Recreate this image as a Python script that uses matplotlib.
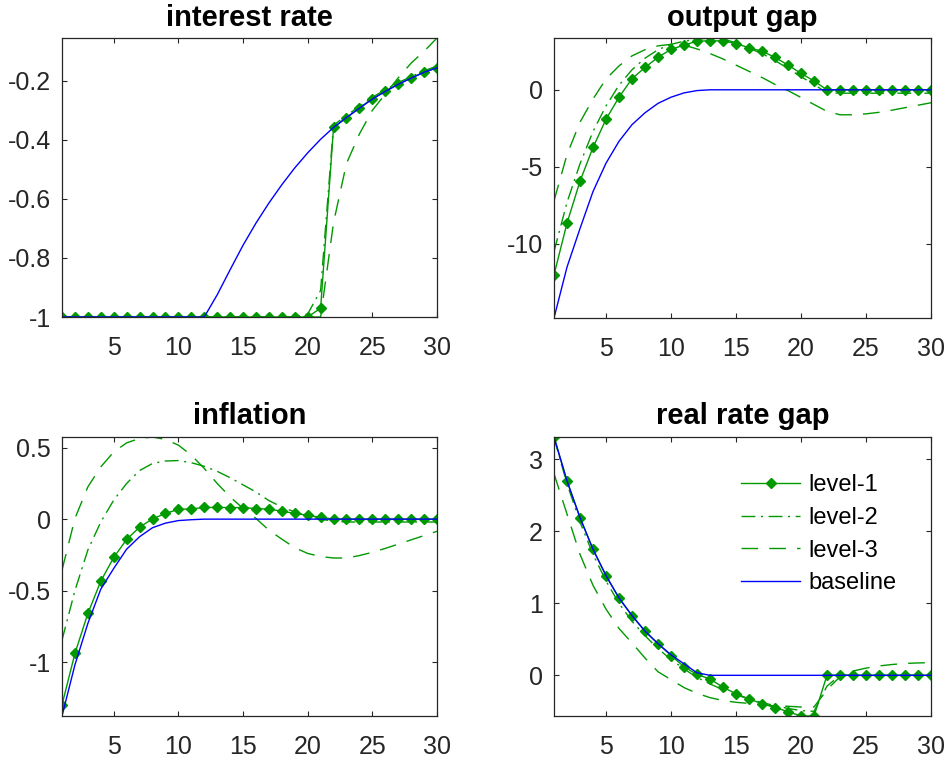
import matplotlib
matplotlib.use("Agg")
import matplotlib.pyplot as plt
import numpy as np

plt.rcParams['font.family'] = ['Liberation Sans', 'DejaVu Sans']
plt.rcParams['axes.unicode_minus'] = False

t = list(range(1, 31))

# ---- interest rate ----
base_i = [-1]*12 + [-0.925, -0.84, -0.757, -0.682, -0.614, -0.552, -0.495, -0.444,
                    -0.398, -0.358, -0.324, -0.293, -0.262, -0.236, -0.212, -0.191,
                    -0.171, -0.156]
l1_i = [-1]*20 + [-0.970, -0.358, -0.326, -0.292, -0.260, -0.236, -0.211, -0.191,
                  -0.170, -0.156]
l2_i = [-1]*19 + [-0.99, -0.91, -0.35, -0.318, -0.286, -0.256, -0.230, -0.206,
                  -0.186, -0.166, -0.150]
l3_i = [-1]*21 + [-0.68, -0.48, -0.38, -0.30, -0.245, -0.19, -0.14, -0.10, -0.055]

# ---- output gap ----
base_y = [-14.8, -11.5, -9.0, -6.6, -4.76, -3.34, -2.26, -1.49, -0.88, -0.48,
          -0.2, -0.05] + [0]*18
l1_y = [-12.0, -8.65, -5.93, -3.74, -1.91, -0.48, 0.72, 1.45, 2.11, 2.62, 2.9,
        3.15, 3.18, 3.17, 3.0, 2.73, 2.5, 2.11, 1.6, 1.07, 0.57, 0] + [0]*8
l2_y = [-10.5, -7.3, -4.8, -2.7, -1.05, 0.3, 1.3, 2.05, 2.6, 2.95, 3.15, 3.28,
        3.36, 3.3, 3.05, 2.7, 2.35, 1.9, 1.38, 0.85, 0.35, -0.2] + [-0.22]*8
l3_y = [-7.2, -4.2, -2.1, -0.6, 0.7, 1.55, 2.2, 2.6, 2.85, 2.95, 2.9, 2.65, 2.35,
        2.0, 1.6, 1.2, 0.8, 0.35, -0.05, -0.5, -0.95, -1.4, -1.62, -1.62, -1.56,
        -1.46, -1.32, -1.16, -1.0, -0.84]

# ---- inflation ----
base_p = [-1.378, -1.02, -0.73, -0.49, -0.345, -0.21, -0.123, -0.06, -0.028,
          -0.01, -0.004] + [0]*19
l1_p = [-1.30, -0.94, -0.66, -0.434, -0.268, -0.142, -0.056, 0.002, 0.04, 0.068,
        0.072, 0.082, 0.082, 0.081, 0.081, 0.074, 0.07, 0.056, 0.04, 0.027,
        0.013, 0] + [0]*8
l2_p = [-0.847, -0.5, -0.216, -0.02, 0.133, 0.25, 0.34, 0.39, 0.407, 0.41, 0.395,
        0.37, 0.335, 0.29, 0.24, 0.19, 0.13, 0.085, 0.05, 0.022, 0.0,
        -0.015] + [-0.02]*8
l3_p = [-0.357, 0.005, 0.226, 0.366, 0.47, 0.534, 0.565, 0.575, 0.558, 0.518,
        0.448, 0.355, 0.25, 0.156, 0.075, 0.005, -0.077, -0.14, -0.2, -0.24,
        -0.262, -0.272, -0.272, -0.255, -0.232, -0.205, -0.175, -0.145, -0.115,
        -0.085]

# ---- real rate gap ----
base_r = [3.31, 2.70, 2.19, 1.75, 1.385, 1.075, 0.83, 0.615, 0.44, 0.285, 0.16,
          0.035] + [0]*18
l1_r = [3.31, 2.70, 2.19, 1.75, 1.385, 1.07, 0.83, 0.61, 0.44, 0.275, 0.12, 0.012,
        -0.05, -0.167, -0.255, -0.328, -0.394, -0.447, -0.505, -0.565, -0.565,
        0] + [0]*8
l2_r = [3.3, 2.66, 2.13, 1.68, 1.31, 1.0, 0.75, 0.55, 0.37, 0.22, 0.09, -0.03,
        -0.12, -0.2, -0.27, -0.33, -0.38, -0.42, -0.46, -0.49, -0.5, -0.15,
        0.0] + [0.0]*7
l3_r = [2.8, 2.24, 1.68, 1.25, 0.92, 0.65, 0.45, 0.24, 0.05, -0.06, -0.17, -0.25,
        -0.31, -0.35, -0.375, -0.39, -0.41, -0.425, -0.43, -0.44, -0.44, -0.2,
        -0.02, 0.06, 0.1, 0.13, 0.15, 0.165, 0.172, 0.176]

titles = ["interest rate", "output gap", "inflation", "real rate gap"]
series = [(l1_i, l2_i, l3_i, base_i), (l1_y, l2_y, l3_y, base_y),
          (l1_p, l2_p, l3_p, base_p), (l1_r, l2_r, l3_r, base_r)]
yticks = [[-1, -0.8, -0.6, -0.4, -0.2], [-10, -5, 0], [-1, -0.5, 0, 0.5], [0, 1, 2, 3]]
yticklabels = [["-1", "-0.8", "-0.6", "-0.4", "-0.2"], ["-10", "-5", "0"],
               ["-1", "-0.5", "0", "0.5"], ["0", "1", "2", "3"]]
xticks = [5, 10, 15, 20, 25, 30]
labels = ["level-1", "level-2", "level-3", "baseline"]

W, H = 947, 761
fig = plt.figure(figsize=(W/100, H/100), dpi=100)
boxes = [(62, 38, 437, 317), (554, 38, 931, 318), (62, 437, 437, 716), (554, 437, 931, 716)]

green = (0, 0.6, 0)
gray = (0.15, 0.15, 0.15)

for k in range(4):
    x0, y0, x1, y1 = boxes[k]
    ax = fig.add_axes([x0/W, 1 - y1/H, (x1-x0)/W, (y1-y0)/H])
    l1, l2, l3, b = series[k]
    ax.plot(t, l1, color=green, lw=1.0, marker='D', markersize=4.6,
            markerfacecolor=green, markeredgecolor=green, label=labels[0])
    ax.plot(t, l2, color=green, lw=1.0, linestyle=(0, (10, 4, 1.5, 4)), label=labels[1])
    ax.plot(t, l3, color=green, lw=1.0, linestyle=(0, (12, 8)), label=labels[2])
    ax.plot(t, b, color='blue', lw=1.0, label=labels[3])
    allv = np.concatenate([l1, l2, l3, b])
    ax.set_xlim(1, 30)
    ax.set_ylim(allv.min(), allv.max())
    ax.set_xticks(xticks)
    ax.set_xticklabels([str(v) for v in xticks])
    ax.set_yticks(yticks[k])
    ax.set_yticklabels(yticklabels[k])
    ax.tick_params(direction='in', top=True, right=True, length=3.6, width=0.8,
                   colors=gray, labelsize=18)
    ax.tick_params(axis='x', pad=14)
    ax.tick_params(axis='y', pad=8)
    for s in ax.spines.values():
        s.set_color(gray)
        s.set_linewidth(0.9)
    ax.set_title(titles[k], fontsize=21, fontweight='bold', pad=9)
    if k == 3:
        ax.legend(loc='upper left', bbox_to_anchor=(0.496, 0.866), frameon=False,
                  fontsize=17, handlelength=2.5, handletextpad=0.35,
                  labelspacing=0.45, borderpad=0, borderaxespad=0)

fig.savefig("out.png", dpi=100)
